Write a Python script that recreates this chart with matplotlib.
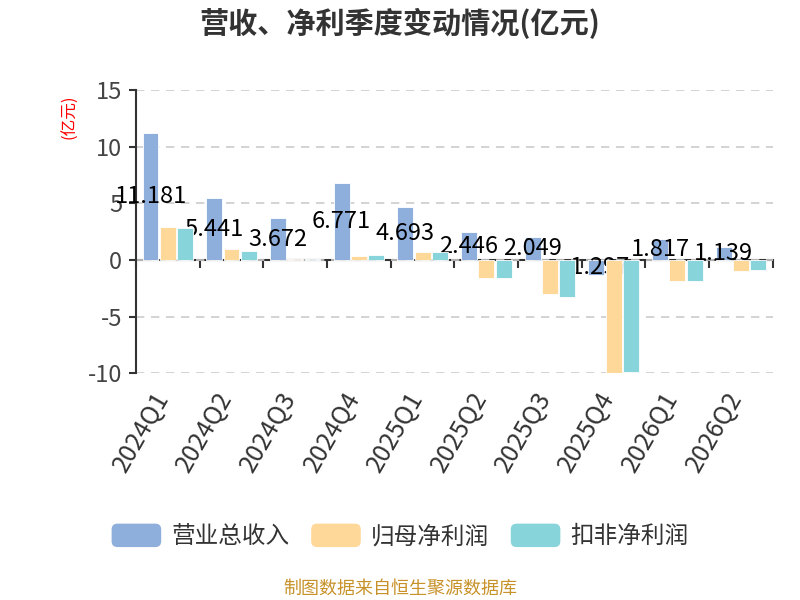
import numpy as np
import matplotlib
matplotlib.use('Agg')
from matplotlib import pyplot as plt
from matplotlib.patches import FancyBboxPatch, Patch
from matplotlib.legend_handler import HandlerPatch
from matplotlib.transforms import ScaledTranslation

plt.rcParams['font.family'] = ['Noto Sans CJK SC', 'DejaVu Sans']
plt.rcParams['axes.unicode_minus'] = False

quarters = ['2024Q1', '2024Q2', '2024Q3', '2024Q4', '2025Q1',
            '2025Q2', '2025Q3', '2025Q4', '2026Q1', '2026Q2']
revenue = [11.181, 5.441, 3.672, 6.771, 4.693, 2.446, 2.049, -1.297, 1.817, 1.139]
net_profit = [2.95, 0.97, 0.06, 0.38, 0.72, -1.56, -2.97, -9.94, -1.82, -0.94]
net_profit_ded = [2.82, 0.79, 0.04, 0.47, 0.73, -1.62, -3.24, -9.85, -1.85, -0.88]
series_names = ['营业总收入', '归母净利润', '扣非净利润']
colors = ['#8eaedc', '#fed898', '#87d5da']


class RoundHandler(HandlerPatch):
    def create_artists(self, legend, orig_handle, xdescent, ydescent,
                       width, height, fontsize, trans):
        p = FancyBboxPatch((-xdescent, -ydescent), width, height,
                           boxstyle='round,pad=0,rounding_size=%f' % (height * 0.25),
                           facecolor=orig_handle.get_facecolor(),
                           edgecolor='none', transform=trans)
        return [p]


fig = plt.figure(figsize=(8, 6), dpi=100)
ax = fig.add_axes([0.17, 0.378, 0.796, 0.472])

x = np.arange(len(quarters))
w = 0.25
off = 0.272
ax.bar(x - off, revenue, w, color=colors[0], edgecolor='white', linewidth=0.6, zorder=2)
ax.bar(x, net_profit, w, color=colors[1], edgecolor='white', linewidth=0.6, zorder=4)
ax.bar(x + off, net_profit_ded, w, color=colors[2], edgecolor='white', linewidth=0.6, zorder=4)

# labels sit under the other two series, like the original
for xi, v in zip(x, revenue):
    ax.text(xi - off, v / 2, '%g' % v, ha='center', va='center',
            fontsize=17, color='black', zorder=3)

ax.set_xlim(-0.5, len(quarters) - 0.5)
ax.set_ylim(-10, 15)
ax.set_yticks([-10, -5, 0, 5, 10, 15])
ax.yaxis.grid(True, linestyle=(0, (5, 4)), color='#cccccc', linewidth=1.2, zorder=0)
ax.set_axisbelow(True)

for s in ['top', 'right', 'bottom']:
    ax.spines[s].set_visible(False)
ax.spines['left'].set_color('#333333')
ax.spines['left'].set_linewidth(1.5)
ax.tick_params(axis='y', length=5, width=1.5, color='#333333', labelsize=17,
               labelcolor='#444444', pad=5)

ax.set_xticks(x)
ax.set_xticklabels(quarters, rotation=60, ha='right', rotation_mode='anchor',
                   fontsize=18, color='#333333')
ax.tick_params(axis='x', length=0, pad=10)
shift = ScaledTranslation(-0.16, 0, fig.dpi_scale_trans)
for lb in ax.get_xticklabels():
    lb.set_transform(lb.get_transform() + shift)

# zero axis with boundary ticks
sec = ax.secondary_xaxis(0.4)
sec.set_xticks(np.arange(len(quarters) + 1) - 0.5)
sec.tick_params(axis='x', length=6, width=1.5, color='#333333', labelbottom=False)
sec.spines['bottom'].set_color('#333333')
sec.spines['bottom'].set_linewidth(1.5)

fig.text(0.5, 1 - 23 / 600, '营收、净利季度变动情况(亿元)', ha='center', va='center',
         fontsize=21, fontweight='bold', color='#333333')
fig.text(70 / 800, 1 - 117 / 600, '(亿元)', rotation=90, ha='center', va='center',
         fontsize=12, color='red')

handles = [Patch(facecolor=c) for c in colors]
fig.legend(handles, series_names, loc='center', bbox_to_anchor=(0.5, 1 - 536 / 600),
           ncol=3, frameon=False, fontsize=17, handlelength=2.1, handleheight=1.15,
           handletextpad=0.42, columnspacing=0.93,
           handler_map={Patch: RoundHandler()}, labelcolor='#333333')

fig.text(0.5, 1 - 589 / 600, '制图数据来自恒生聚源数据库', ha='center', va='center',
         fontsize=13, color='#c8922a')

fig.savefig('out.png', dpi=100)
